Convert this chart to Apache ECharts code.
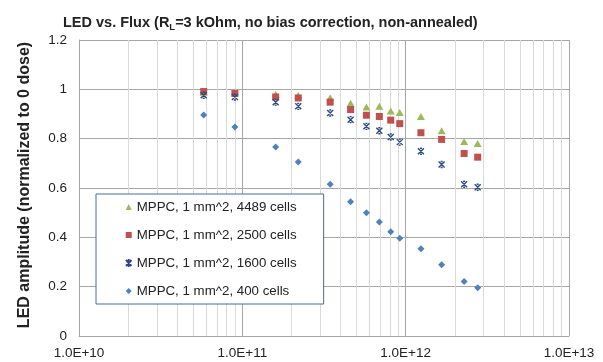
<!DOCTYPE html>
<html>
<head>
<meta charset="utf-8">
<script src="https://cdn.jsdelivr.net/npm/echarts@6/dist/echarts.min.js"></script>
<style>
  html, body { margin: 0; padding: 0; background: #fff; }
  #chart { width: 603px; height: 362px; }
</style>
</head>
<body>
<div id="chart"></div>
<script>
// Integrated flux (x) and normalized LED amplitude for each MPPC type
const flux = [5.8e10, 9.0e10, 1.6e11, 2.2e11, 3.45e11, 4.6e11, 5.75e11, 6.9e11, 8.1e11, 9.2e11, 1.24e12, 1.66e12, 2.28e12, 2.76e12];
const cells4489 = [0.988, 0.989, 0.980, 0.976, 0.966, 0.944, 0.928, 0.931, 0.912, 0.906, 0.890, 0.832, 0.789, 0.780];
const cells2500 = [0.991, 0.983, 0.969, 0.965, 0.948, 0.918, 0.895, 0.890, 0.875, 0.861, 0.824, 0.797, 0.740, 0.725];
const cells1600 = [0.976, 0.969, 0.948, 0.931, 0.904, 0.877, 0.850, 0.832, 0.807, 0.786, 0.749, 0.695, 0.615, 0.603];
const cells400  = [0.896, 0.847, 0.766, 0.705, 0.615, 0.544, 0.500, 0.462, 0.423, 0.396, 0.354, 0.289, 0.221, 0.196];

const seriesNames = [
  'MPPC, 1 mm^2, 4489 cells',
  'MPPC, 1 mm^2, 2500 cells',
  'MPPC, 1 mm^2, 1600 cells',
  'MPPC, 1 mm^2, 400 cells'
];

const yTitle = 'LED amplitude (normalized to 0 dose)';

const xMin = 1e10, xMax = 1e13;

// minor log gridlines at 2..9 within each decade
const minorLines = [];
for (let d = xMin; d < xMax; d *= 10) {
  for (let k = 2; k <= 9; k++) minorLines.push({ xAxis: d * k });
}

const pair = ys => flux.map((x, i) => [x, ys[i]]);

// "x" marker with short caps top and bottom
const crossPath = 'path://M3.5,0L6.5,0M3.5,10L6.5,10M0.5,0L9.5,10M9.5,0L0.5,10';

const chart = echarts.init(document.getElementById('chart'), null, { renderer: 'canvas' });

const textColor = '#222';
const font = 'Liberation Sans, Arial, sans-serif';

chart.setOption({
  animation: false,
  backgroundColor: '#fff',
  title: {
    left: 58,
    top: 9,
    text: '{a|LED vs. Flux (R}{s|L}{a|=3 kOhm, no bias correction, non-annealed)}',
    textStyle: {
      rich: {
        a: { fontFamily: font, fontWeight: 'bold', fontSize: 14.5, color: textColor },
        s: { fontFamily: font, fontWeight: 'bold', fontSize: 9.5, color: textColor, verticalAlign: 'bottom', padding: [8, 0, 0, 0] }
      }
    }
  },
  graphic: [{
    type: 'text',
    x: 25,
    y: 185,
    rotation: Math.PI / 2,
    style: {
      text: yTitle,
      fontFamily: font,
      fontSize: 16,
      fontWeight: 'bold',
      fill: textColor,
      align: 'center',
      verticalAlign: 'middle'
    }
  }],
  grid: { left: 79, right: 34, top: 40, bottom: 26, containLabel: false },
  legend: {
    data: seriesNames,
    orient: 'vertical',
    left: 96,
    top: 194,
    padding: [6, 27, 6, 29],
    itemGap: 14,
    itemWidth: 6,
    itemHeight: 6,
    backgroundColor: '#fff',
    borderColor: '#4A6A9E',
    borderWidth: 1,
    borderRadius: 0,
    textStyle: { fontFamily: font, fontSize: 13.3, lineHeight: 14, color: textColor }
  },
  xAxis: {
    type: 'log',
    logBase: 10,
    min: xMin,
    max: xMax,
    axisLine: { show: true, lineStyle: { color: '#A6A6A6' } },
    axisTick: { show: false },
    splitLine: { show: true, lineStyle: { color: '#A6A6A6', width: 1 } },
    axisLabel: {
      fontFamily: font, fontSize: 13.5, color: textColor, margin: 10,
      formatter: v => Number(v).toExponential(1).toUpperCase()
    }
  },
  yAxis: {
    type: 'value',
    min: 0,
    max: 1.2,
    interval: 0.2,
    axisLine: { show: true, lineStyle: { color: '#A6A6A6' } },
    axisTick: { show: false },
    splitLine: { show: true, lineStyle: { color: '#A6A6A6', width: 1 } },
    axisLabel: { fontFamily: font, fontSize: 13.5, color: textColor, margin: 12 }
  },
  series: [
    {
      name: 'minor',
      type: 'scatter',
      data: [],
      z: 1,
      silent: true,
      markLine: {
        silent: true,
        z: 1,
        symbol: 'none',
        label: { show: false },
        lineStyle: { color: '#D9D9D9', type: 'solid', width: 1 },
        data: minorLines
      }
    },
    {
      name: seriesNames[0],
      type: 'scatter',
      z: 10,
      symbol: 'triangle',
      symbolSize: [8, 7],
      itemStyle: { color: '#9BBB59', opacity: 1 },
      data: pair(cells4489)
    },
    {
      name: seriesNames[1],
      type: 'scatter',
      z: 11,
      symbol: 'rect',
      symbolSize: 7,
      itemStyle: { color: '#C0504D', opacity: 1 },
      data: pair(cells2500)
    },
    {
      name: seriesNames[2],
      type: 'scatter',
      z: 12,
      symbol: crossPath,
      symbolSize: 6,
      itemStyle: { color: 'rgba(0,0,0,0)', borderColor: '#2B4A86', borderWidth: 1.4, opacity: 1 },
      data: pair(cells1600)
    },
    {
      name: seriesNames[3],
      type: 'scatter',
      z: 13,
      symbol: 'diamond',
      symbolSize: 7,
      itemStyle: { color: '#4F81BD', opacity: 1 },
      data: pair(cells400)
    }
  ]
});
</script>
</body>
</html>
